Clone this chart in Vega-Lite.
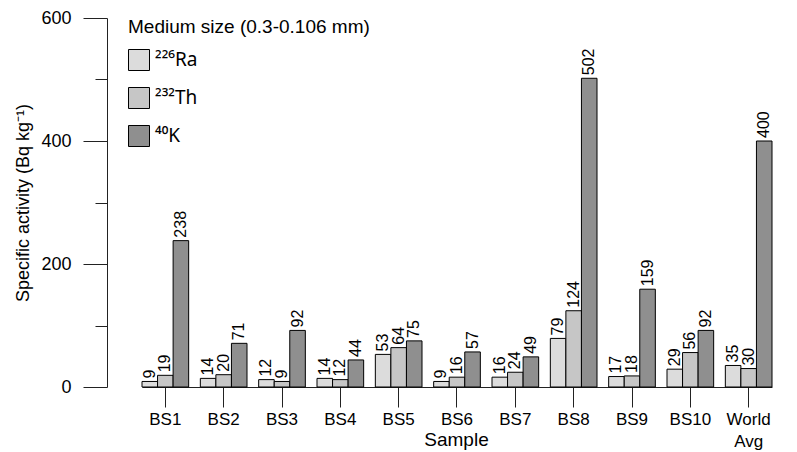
{
  "$schema": "https://vega.github.io/schema/vega-lite/v6.json",
  "width": 690,
  "height": 369,
  "autosize": {"type": "none"},
  "padding": {"left": 107, "top": 18, "right": 0, "bottom": 65},
  "background": "white",
  "config": {
    "font": "Liberation Sans",
    "view": {"stroke": null},
    "axis": {
      "domainColor": "#222",
      "tickColor": "#222",
      "labelColor": "#000",
      "titleColor": "#000",
      "labelFont": "Liberation Sans",
      "titleFont": "Liberation Sans",
      "titleFontWeight": "normal",
      "grid": false
    }
  },
  "data": {
    "values": [
      {"sample": "BS1", "isotope": "²²⁶Ra", "value": 9},
      {"sample": "BS1", "isotope": "²³²Th", "value": 19},
      {"sample": "BS1", "isotope": "⁴⁰K", "value": 238},
      {"sample": "BS2", "isotope": "²²⁶Ra", "value": 14},
      {"sample": "BS2", "isotope": "²³²Th", "value": 20},
      {"sample": "BS2", "isotope": "⁴⁰K", "value": 71},
      {"sample": "BS3", "isotope": "²²⁶Ra", "value": 12},
      {"sample": "BS3", "isotope": "²³²Th", "value": 9},
      {"sample": "BS3", "isotope": "⁴⁰K", "value": 92},
      {"sample": "BS4", "isotope": "²²⁶Ra", "value": 14},
      {"sample": "BS4", "isotope": "²³²Th", "value": 12},
      {"sample": "BS4", "isotope": "⁴⁰K", "value": 44},
      {"sample": "BS5", "isotope": "²²⁶Ra", "value": 53},
      {"sample": "BS5", "isotope": "²³²Th", "value": 64},
      {"sample": "BS5", "isotope": "⁴⁰K", "value": 75},
      {"sample": "BS6", "isotope": "²²⁶Ra", "value": 9},
      {"sample": "BS6", "isotope": "²³²Th", "value": 16},
      {"sample": "BS6", "isotope": "⁴⁰K", "value": 57},
      {"sample": "BS7", "isotope": "²²⁶Ra", "value": 16},
      {"sample": "BS7", "isotope": "²³²Th", "value": 24},
      {"sample": "BS7", "isotope": "⁴⁰K", "value": 49},
      {"sample": "BS8", "isotope": "²²⁶Ra", "value": 79},
      {"sample": "BS8", "isotope": "²³²Th", "value": 124},
      {"sample": "BS8", "isotope": "⁴⁰K", "value": 502},
      {"sample": "BS9", "isotope": "²²⁶Ra", "value": 17},
      {"sample": "BS9", "isotope": "²³²Th", "value": 18},
      {"sample": "BS9", "isotope": "⁴⁰K", "value": 159},
      {"sample": "BS10", "isotope": "²²⁶Ra", "value": 29},
      {"sample": "BS10", "isotope": "²³²Th", "value": 56},
      {"sample": "BS10", "isotope": "⁴⁰K", "value": 92},
      {"sample": "World Avg", "isotope": "²²⁶Ra", "value": 35},
      {"sample": "World Avg", "isotope": "²³²Th", "value": 30},
      {"sample": "World Avg", "isotope": "⁴⁰K", "value": 400}
    ]
  },
  "encoding": {
    "x": {
      "field": "sample",
      "type": "nominal",
      "sort": ["BS1", "BS2", "BS3", "BS4", "BS5", "BS6", "BS7", "BS8", "BS9", "BS10", "World Avg"],
      "scale": {"range": [35, 665], "paddingInner": 0.2, "paddingOuter": 0},
      "axis": {
        "title": "Sample",
        "titleFontSize": 19,
        "titleY": 43,
        "titleX": 349,
        "labelAngle": 0,
        "labelFontSize": 17,
        "labelPadding": 4,
        "labelLineHeight": 22,
        "tickSize": 20,
        "labelExpr": "datum.value == 'World Avg' ? ['World', 'Avg'] : datum.label"
      }
    },
    "xOffset": {
      "field": "isotope",
      "type": "nominal",
      "sort": ["²²⁶Ra", "²³²Th", "⁴⁰K"],
      "scale": {"paddingInner": 0, "paddingOuter": 0}
    },
    "y": {
      "field": "value",
      "type": "quantitative",
      "scale": {"domain": [0, 600], "nice": false},
      "axis": {
        "title": "Specific activity (Bq kg⁻¹)",
        "titleFontSize": 18,
        "titlePadding": 8,
        "values": [0, 100, 200, 300, 400, 500, 600],
        "labelExpr": "datum.value % 200 === 0 ? datum.label : ''",
        "labelFontSize": 18,
        "labelPadding": 12,
        "tickSize": {"condition": {"test": "datum.value % 200 === 0", "value": 24}, "value": 12}
      }
    }
  },
  "layer": [
    {
      "mark": {"type": "bar", "stroke": "#000", "strokeWidth": 1},
      "encoding": {
        "fill": {
          "field": "isotope",
          "type": "nominal",
          "scale": {"domain": ["²²⁶Ra", "²³²Th", "⁴⁰K"], "range": ["#dcdcdc", "#c6c6c6", "#8f8f8f"]},
          "legend": {
            "title": "Medium size (0.3-0.106 mm)",
            "orient": "none",
            "legendX": 21,
            "legendY": 0,
            "padding": 0,
            "titleFontSize": 19,
            "titleFontWeight": "normal",
            "titleColor": "#000",
            "titlePadding": 12,
            "titleLimit": 400,
            "labelFontSize": 19,
            "labelFont": "Noto Sans",
            "labelColor": "#000",
            "labelOffset": 5,
            "symbolType": "square",
            "symbolSize": 441,
            "symbolStrokeColor": "#000",
            "symbolStrokeWidth": 1,
            "rowPadding": 12
          }
        }
      }
    },
    {
      "mark": {"type": "text", "angle": 270, "align": "left", "baseline": "middle", "dx": 3, "fontSize": 16, "font": "Liberation Sans", "color": "#000"},
      "encoding": {
        "text": {"field": "value", "type": "quantitative"}
      }
    }
  ]
}
